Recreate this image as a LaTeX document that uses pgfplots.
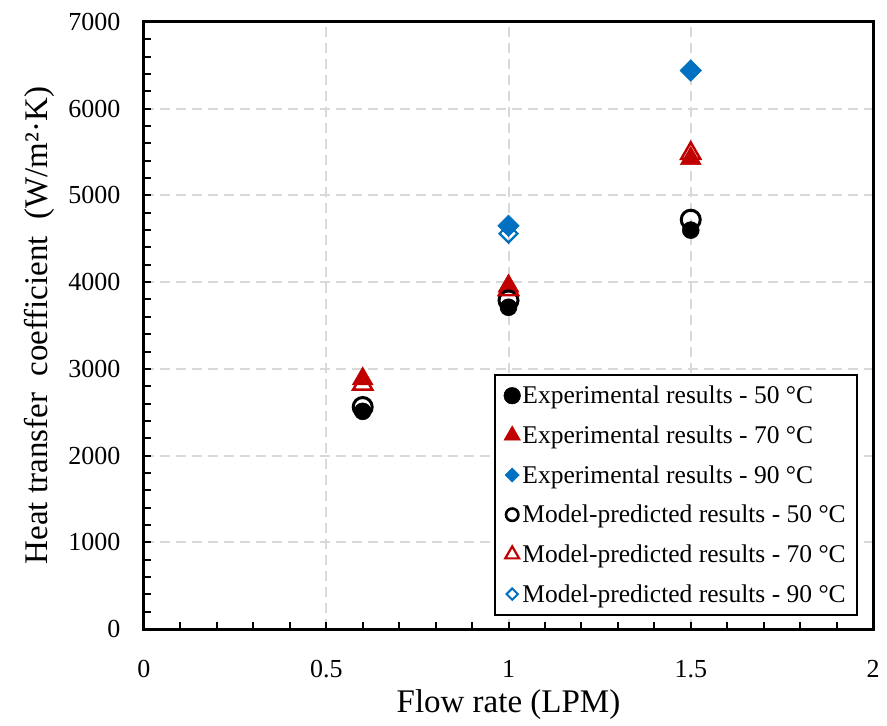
\documentclass[border=0pt]{standalone}
\usepackage{fontspec}
\setmainfont{Liberation Serif}
\usepackage{pgfplots}
\pgfplotsset{compat=1.18}
\definecolor{exred}{HTML}{C00000}
\definecolor{exblue}{HTML}{0070C0}
\definecolor{gridgray}{HTML}{D9D9D9}
\begin{document}
\begin{tikzpicture}
\begin{axis}[
  at={(0,0)}, anchor=south west,
  scale only axis, width=729bp, height=607bp,
  xmin=0, xmax=2, ymin=0, ymax=7000,
  xtick={0,0.5,1,1.5,2}, ytick={0,1000,2000,3000,4000,5000,6000,7000},
  minor x tick num=4, minor y tick num=4,
  scaled ticks=false,
  /pgf/number format/assume math mode=true,
  /pgf/number format/1000 sep={},
  tick label style={font=\fontsize{26bp}{30bp}\selectfont},
  xticklabel style={yshift=-28bp},
  yticklabel style={xshift=-20bp},
  tick align=inside, tick pos=left,
  major tick length=7bp, minor tick length=7bp,
  every tick/.style={black, line width=2bp},
  axis line style={line width=3bp},
  grid=major,
  major grid style={gridgray, dash pattern=on 10bp off 6bp, line width=2bp},
  xlabel={Flow rate (LPM)},
  ylabel={Heat transfer\ \ coefficient\ \ (W/m²·K)},
  label style={font=\fontsize{33bp}{38bp}\selectfont},
  xlabel style={at={(axis description cs:0.5,-0.125)}, anchor=center},
  ylabel style={at={(axis description cs:-0.143,0.5)}, anchor=center},
  legend style={at={(axis description cs:0.979,0.022)}, anchor=south east,
    draw=black, line width=2bp,
    font=\fontsize{25.5bp}{30bp}\selectfont,
    row sep=16.5bp, inner xsep=9bp, inner ysep=9bp},
  legend cell align=left,
  legend image code/.code={\draw[#1] plot coordinates {(0bp,0bp)};},
]
\addplot[only marks, mark=*, mark size=8.5bp, black, line width=0.5bp,
  legend image post style={mark size=8.3bp}]
  coordinates {(0.6,2510) (1,3710) (1.5,4600)};
\addlegendentry{Experimental results - 50 °C}
\addplot[only marks, mark=triangle*, mark size=12bp, exred, line width=0.5bp,
  legend image post style={mark size=9.5bp}]
  coordinates {(0.6,2885) (1,3955) (1.5,5425)};
\addlegendentry{Experimental results - 70 °C}
\addplot[only marks, mark=square*, mark options={rotate=45}, mark size=7.6bp, exblue, line width=0.5bp,
  legend image post style={mark size=5bp}]
  coordinates {(1,4650) (1.5,6440)};
\addlegendentry{Experimental results - 90 °C}
\addplot[only marks, mark=o, mark size=9.5bp, black, line width=3bp,
  legend image post style={mark size=6.2bp, line width=2.6bp}]
  coordinates {(0.6,2560) (1,3790) (1.5,4720)};
\addlegendentry{Model-predicted results - 50 °C}
\addplot[only marks, mark=triangle, mark size=11bp, exred, line width=2.5bp,
  legend image post style={mark size=8bp, line width=2.2bp}]
  coordinates {(0.6,2825) (1,3915) (1.5,5485)};
\addlegendentry{Model-predicted results - 70 °C}
\addplot[only marks, mark=square, mark options={rotate=45}, mark size=6.3bp, exblue, line width=2.2bp,
  legend image post style={mark size=4bp, line width=2bp}]
  coordinates {(1,4560) (1.5,6440)};
\addlegendentry{Model-predicted results - 90 °C}
\end{axis}
\pgfresetboundingbox
\path (-144bp,-97bp) rectangle (743bp,629bp);
\end{tikzpicture}
\end{document}
